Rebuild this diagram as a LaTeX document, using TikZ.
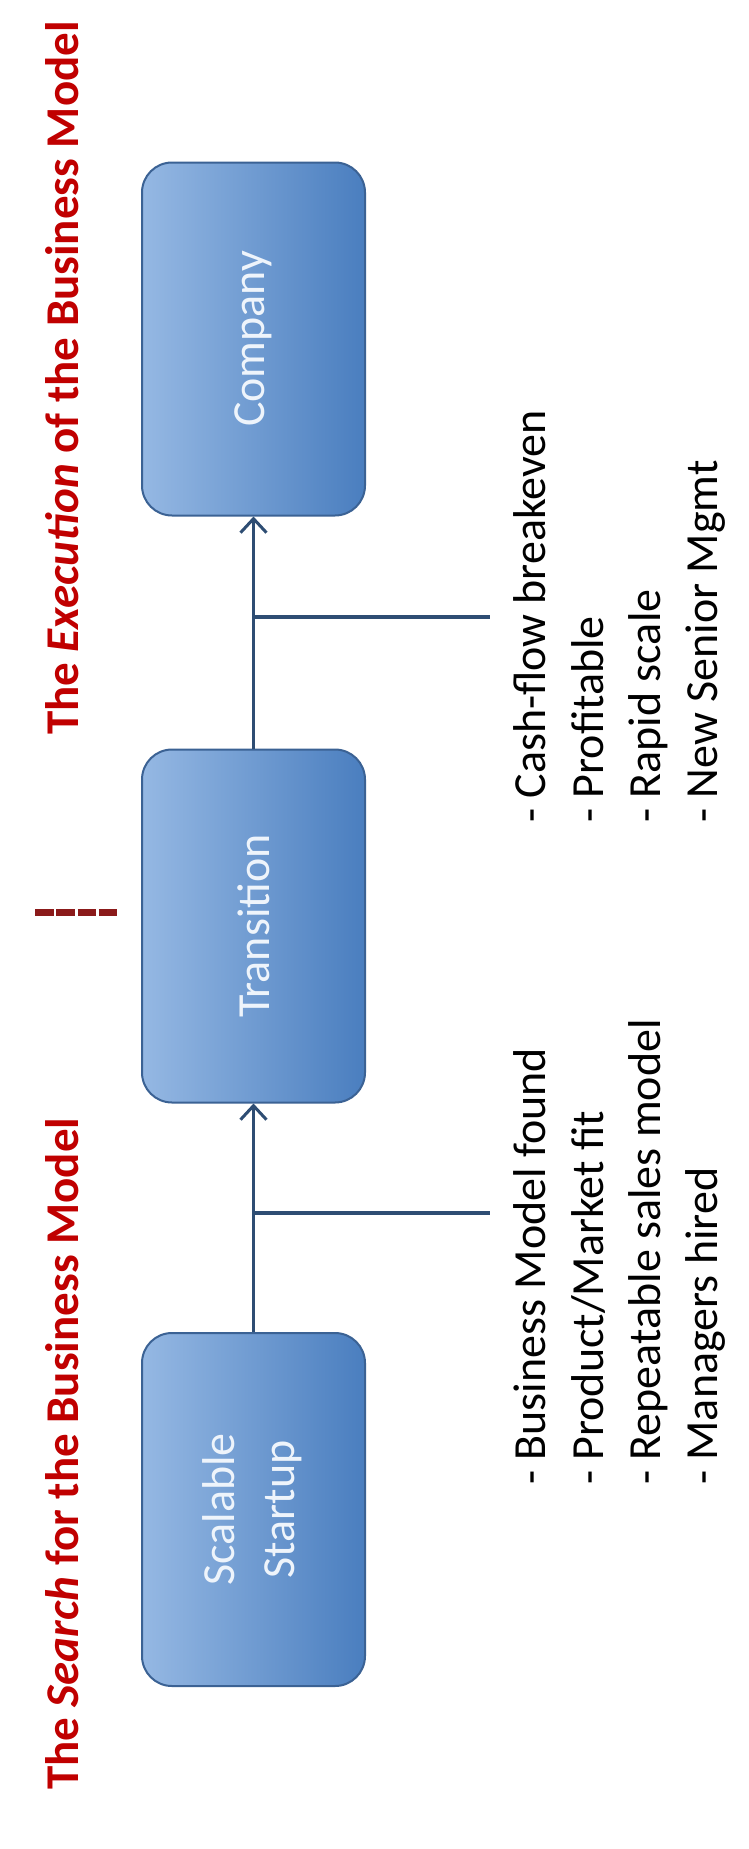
\documentclass[tikz,border=0pt]{standalone}
\usepackage{fontspec}
\setmainfont{Carlito}
\usetikzlibrary{arrows.meta,calc}
\definecolor{titlered}{HTML}{C00000}
\definecolor{sepred}{HTML}{8B1A1A}
\definecolor{boxlight}{HTML}{95B8E3}
\definecolor{boxdark}{HTML}{4A7EBF}
\definecolor{boxedge}{HTML}{3B6294}
\definecolor{connblue}{HTML}{2E4D73}
\definecolor{boxtext}{HTML}{EEF4FB}
\begin{document}
\begin{tikzpicture}[x=1pt,y=-1pt,
  stage/.style={rectangle, rounded corners=30pt, minimum width=223pt, minimum height=353pt,
    left color=boxlight, right color=boxdark, draw=boxedge, line width=2pt,
    text=boxtext, font=\fontsize{46}{57}\selectfont, inner sep=0pt},
  titletext/.style={rotate=90, anchor=base west, text=titlered,
    font=\fontsize{47}{57}\selectfont\bfseries, inner sep=0pt},
  item/.style={rotate=90, anchor=base west, font=\fontsize{46}{57}\selectfont, inner sep=0pt},
  conn/.style={draw=connblue, line width=3.5pt},
  arr/.style={conn, -{Straight Barb[length=14pt,width=26pt,line width=3pt]}},
  sep/.style={draw=sepred, line width=7pt, dash pattern=on 18.5pt off 2.8pt}
]
\useasboundingbox (0,0) rectangle (749,1849);
\fill[white] (0,0) rectangle (749,1849);

% titles
\node[titletext] (t1) at (78,1790) {The \textit{Search} for the Business Model};
\node[titletext] (t2) at (78,735) {The \textit{Execution} of the Business Model};

% separator
\coordinate (s1) at (35,912);
\coordinate (s2) at (117,912);
\draw[sep] (s1) -- (s2);

% stage boxes
\node[stage] (b1) at (253.5,1509.5) {\rotatebox{90}{\begin{tabular}{@{}c@{}}Scalable\\[3pt]Startup\end{tabular}}};
\node[stage] (b2) at (253.5,926) {\rotatebox{90}{Transition}};
\node[stage] (b3) at (253.5,339) {\rotatebox{90}{Company}};

% connectors
\draw[arr] (b1.north) -- (b2.south);
\draw[arr] (b2.north) -- (b3.south);
\coordinate (br1) at (490,1213);
\coordinate (br2) at (490,617);
\draw[conn] (b1.north |- br1) -- (br1);
\draw[conn] (b2.north |- br2) -- (br2);

% lists
\node[item] (l1a) at (545,1485) {- Business Model found};
\node[item] (l1b) at (603,1485) {- Product/Market fit};
\node[item] (l1c) at (660,1485) {- Repeatable sales model};
\node[item] (l1d) at (717,1485) {- Managers hired};
\node[item] (l2a) at (545,823) {- Cash-flow breakeven};
\node[item] (l2b) at (603,823) {- Profitable};
\node[item] (l2c) at (660,823) {- Rapid scale};
\node[item] (l2d) at (717,823) {- New Senior Mgmt};
\end{tikzpicture}
\end{document}
